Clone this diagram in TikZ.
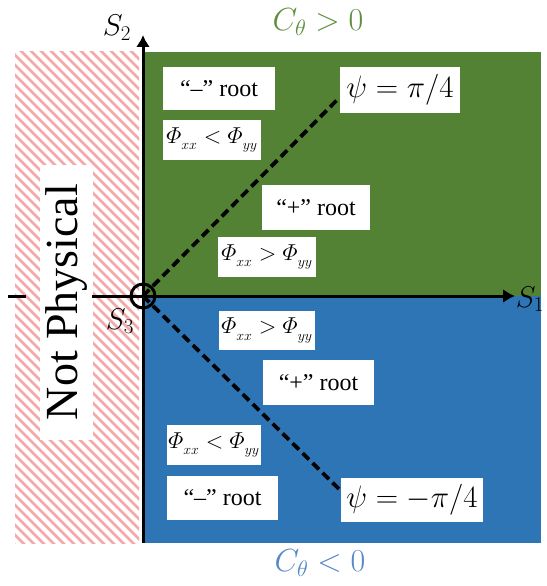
\RequirePackage{fix-cm}
\documentclass[tikz,border=0pt]{standalone}
\usepackage{amsmath}
\usepackage{fontspec}
\setmainfont{Liberation Serif}
\usetikzlibrary{arrows.meta}
\definecolor{pgreen}{HTML}{548235}
\definecolor{pblue}{HTML}{2E75B6}
\definecolor{tgreen}{HTML}{5E8F3F}
\definecolor{tblue}{HTML}{5588C6}
\definecolor{hatchpink}{HTML}{F4A8A8}
\newcommand\lowsub[1]{_{\raisebox{-3pt}{\fontsize{14}{14}\selectfont$#1$}}}
\begin{document}
\begin{tikzpicture}[x=1pt,y=-1pt,
  wbox/.style={fill=white, inner sep=0pt, anchor=center},
  rootlbl/.style={wbox, font=\fontsize{24}{26}\selectfont},
  phil/.style={wbox, font=\fontsize{23}{25}\selectfont},
  psil/.style={wbox, font=\fontsize{31}{33}\selectfont},
  axis/.style={line width=3pt},
  dashline/.style={line width=3.8pt, dash pattern=on 9pt off 5pt},
  axlbl/.style={font=\fontsize{30}{32}\selectfont, inner sep=0pt}]
\useasboundingbox (0,0) rectangle (546,586);
% regions
\fill[pgreen] (143,52) rectangle (541,296);
\fill[pblue] (143,296) rectangle (541,543);
\begin{scope}
  \clip (15,52) rectangle (139,543);
  \foreach \a in {-520,-510,...,150} {
    \draw[hatchpink, line width=2.7pt] (\a,40) -- (\a+520,560);
  }
\end{scope}
% axes
\coordinate (O) at (143,296);
\coordinate (xl) at (8,296);
\coordinate (xl2) at (26,296);
\coordinate (xs) at (92,296);
\coordinate (xe) at (515,296);
\coordinate (yb) at (143,543);
\coordinate (ye) at (143,35);
\node[wbox, minimum width=275pt, minimum height=53pt, rotate=90,
      font=\fontsize{46}{48}\selectfont] (np) at (66.5,302) {Not Physical};
\draw[axis] (xl) -- (xl2);
\draw[axis, -{Latex[length=12pt,width=14pt]}] (xs) -- (xe);
\draw[axis, -{Latex[length=12pt,width=14pt]}] (yb) -- (ye);
\draw[axis] (O) circle (12pt);
% boxes
\node[rootlbl, minimum width=112pt, minimum height=43pt] (m1) at (219,88.5) {``--'' root};
\node[phil, minimum width=98pt, minimum height=40pt] (p1) at (212,140) {$\varPhi\lowsub{xx} < \varPhi\lowsub{yy}$};
\node[psil, minimum width=120pt, minimum height=46pt] (psi1) at (400,90) {$\psi = \pi/4$};
\node[rootlbl, minimum width=108pt, minimum height=45pt] (r1) at (316,207.5) {``+'' root};
\node[phil, minimum width=98pt, minimum height=40pt] (p2) at (267,257) {$\varPhi\lowsub{xx} > \varPhi\lowsub{yy}$};
\node[phil, minimum width=96pt, minimum height=39pt] (p3) at (267,330.5) {$\varPhi\lowsub{xx} > \varPhi\lowsub{yy}$};
\node[rootlbl, minimum width=111pt, minimum height=45pt] (r2) at (318.5,382.5) {``+'' root};
\node[phil, minimum width=94pt, minimum height=40pt] (p4) at (214,445) {$\varPhi\lowsub{xx} < \varPhi\lowsub{yy}$};
\node[rootlbl, minimum width=111pt, minimum height=44pt] (m2) at (222.5,498) {``--'' root};
\node[psil, minimum width=142pt, minimum height=44pt] (psi2) at (412,500) {$\psi = -\pi/4$};
% dashed lines
\coordinate (d1) at (338,99);
\coordinate (d2) at (339,489);
\draw[dashline] (O) -- (d1);
\draw[dashline] (O) -- (d2);
% labels
\node[axlbl] (s2) at (117,28) {$S_2$};
\node[axlbl] (s1) at (530,299) {$S_1$};
\node[axlbl] (s3) at (120,321) {$S_3$};
\node[axlbl, text=tgreen, font=\fontsize{32}{34}\selectfont] (cp) at (318,22) {$C_\theta > 0$};
\node[axlbl, text=tblue, font=\fontsize{32}{34}\selectfont] (cm) at (320,563) {$C_\theta < 0$};
\end{tikzpicture}
\end{document}
